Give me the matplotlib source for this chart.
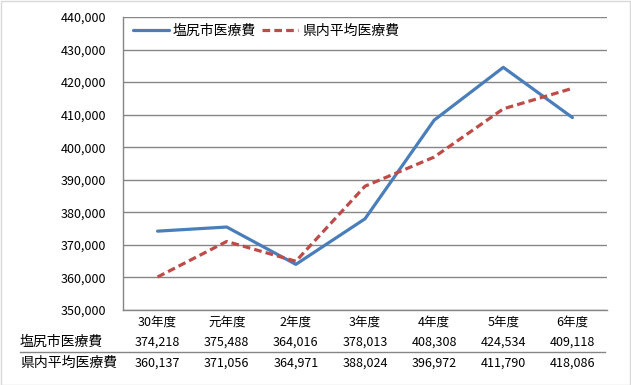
import matplotlib.pyplot as plt
from matplotlib.patches import Rectangle
from matplotlib.ticker import FuncFormatter, MultipleLocator

plt.rcParams['font.family'] = ['Noto Sans CJK JP', 'DejaVu Sans']

# --- Data ---
years = ['30年度', '元年度', '2年度', '3年度', '4年度', '5年度', '6年度']
shiojiri = [374218, 375488, 364016, 378013, 408308, 424534, 409118]
pref_avg = [360137, 371056, 364971, 388024, 396972, 411790, 418086]
series_names = ['塩尻市医療費', '県内平均医療費']

BLUE = '#4A7EBB'
RED = '#BE4B48'
GRID = '#868686'
W, H = 631, 385

fig = plt.figure(figsize=(W / 100, H / 100), dpi=100)
ax = fig.add_axes([123 / W, 1 - 310 / H, (607 - 123) / W, (310 - 17) / H])

x = list(range(len(years)))
ax.plot(x, shiojiri, color=BLUE, lw=2.3, label=series_names[0], solid_capstyle='round')
ax.plot(x, pref_avg, color=RED, lw=2.3, ls=(0, (2.4, 1.3)), label=series_names[1])

ax.set_xlim(-0.5, len(years) - 0.5)
ax.set_ylim(350000, 440000)
ax.yaxis.set_major_locator(MultipleLocator(10000))
ax.yaxis.set_major_formatter(FuncFormatter(lambda v, p: f'{int(v):,}'))
ax.grid(axis='y', color=GRID, lw=1)
ax.set_axisbelow(True)

for side in ['top', 'right']:
    ax.spines[side].set_visible(False)
for side in ['left', 'bottom']:
    ax.spines[side].set_color(GRID)
    ax.spines[side].set_linewidth(1)

ax.set_xticks(x)
ax.set_xticklabels(years)
ax.tick_params(axis='x', length=0, pad=4, labelsize=9)
ax.tick_params(axis='y', length=0, pad=12, labelsize=9)

# --- data table below the axes (rows at pixel y 342 and 363) ---
tr = ax.get_xaxis_transform()
row_px = [342, 363]
for vals, py, name in zip([shiojiri, pref_avg], row_px, series_names):
    yy = (310 - py) / 293
    for i, v in enumerate(vals):
        ax.text(i, yy, f'{v:,}', transform=tr, ha='center', va='center', fontsize=9)
    fig.text(20 / W, 1 - py / H, name, ha='left', va='center', fontsize=10)

fig.add_artist(plt.Line2D([20 / W, 605 / W], [1 - 352 / H, 1 - 352 / H], color=GRID, lw=1))

ax.legend(loc='center left', bbox_to_anchor=(0.0, 0.952), ncol=2, frameon=False,
          fontsize=10, handlelength=2.6, handletextpad=0.3, columnspacing=0.4,
          borderaxespad=0.3)

# chart border
fig.add_artist(Rectangle((0.5 / W, 0.5 / H), 1 - 1.5 / W, 1 - 1.5 / H,
                         transform=fig.transFigure, fill=False, ec='#D9D9D9', lw=1))

fig.savefig('out.png', dpi=100)
